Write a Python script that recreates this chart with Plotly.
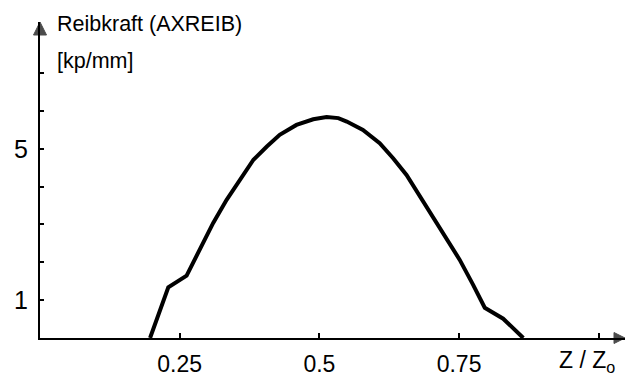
import plotly.graph_objects as go

# Relative position Z/Z0 and friction force (kp/mm)
z_rel = [0.197, 0.2296, 0.2624, 0.286, 0.310, 0.334, 0.358, 0.382, 0.406,
         0.429, 0.459, 0.489, 0.513, 0.534, 0.549, 0.578, 0.608, 0.632,
         0.656, 0.680, 0.704, 0.727, 0.751, 0.775, 0.796, 0.829, 0.865]
reibkraft = [0.0, 1.34, 1.65, 2.34, 3.04, 3.65, 4.18, 4.71, 5.06,
             5.37, 5.63, 5.78, 5.84, 5.81, 5.72, 5.50, 5.15, 4.75,
             4.31, 3.74, 3.21, 2.64, 2.07, 1.41, 0.80, 0.51, 0.0]

x_tick_vals = [0.25, 0.5, 0.75]
x_tick_text = ["0.25", "0.5", "0.75"]
x_minor_vals = [1.0]
y_tick_vals = [1, 5]
y_tick_text = ["1", "5"]
y_minor_vals = [2, 3, 4, 6, 7]

X_MAX = 1.047
Y_MAX = 8.35
FONT = "Liberation Sans, Arial, sans-serif"

fig = go.Figure()
fig.add_trace(go.Scatter(
    x=z_rel, y=reibkraft, mode="lines",
    line=dict(color="black", width=4),
    hoverinfo="skip", showlegend=False, cliponaxis=False,
))

# arrowheads at the ends of both axes
fig.add_trace(go.Scatter(
    x=[X_MAX, 0], y=[0, Y_MAX], mode="markers",
    marker=dict(symbol=["arrow-right", "arrow-up"], size=[11, 13],
                color="black", line=dict(color="black", width=1)),
    hoverinfo="skip", showlegend=False, cliponaxis=False,
))

fig.update_layout(
    width=640, height=377,
    margin=dict(l=40, r=15, t=22, b=38.5, autoexpand=False),
    paper_bgcolor="white", plot_bgcolor="white",
    font=dict(family=FONT, color="black", size=22),
    xaxis=dict(
        range=[0, X_MAX], showgrid=False, zeroline=False, automargin=False,
        showline=True, linecolor="black", linewidth=2,
        ticks="inside", ticklen=5, tickwidth=2, tickcolor="black",
        tickvals=x_tick_vals, ticktext=x_tick_text,
        minor=dict(tickvals=x_minor_vals, ticks="inside", ticklen=5,
                   tickwidth=2, tickcolor="black", showgrid=False),
        tickfont=dict(size=23), ticklabelstandoff=4,
    ),
    yaxis=dict(
        range=[0, Y_MAX], showgrid=False, zeroline=False, automargin=False,
        showline=True, linecolor="black", linewidth=2,
        ticks="inside", ticklen=4, tickwidth=2, tickcolor="black",
        tickvals=y_tick_vals, ticktext=y_tick_text,
        minor=dict(tickvals=y_minor_vals, ticks="inside", ticklen=4,
                   tickwidth=2, tickcolor="black", showgrid=False),
        tickfont=dict(size=25), ticklabelstandoff=5,
    ),
)

# axis titles
fig.add_annotation(x=0.026, y=0.994, xref="paper", yref="paper", xanchor="left",
                   yanchor="middle", showarrow=False,
                   text="Reibkraft (AXREIB)", font=dict(size=21.5))
fig.add_annotation(x=0.026, y=0.877, xref="paper", yref="paper", xanchor="left",
                   yanchor="middle", showarrow=False,
                   text="[kp/mm]", font=dict(size=21.5))
fig.add_annotation(x=0.935, y=-0.074, xref="paper", yref="paper", xanchor="center",
                   yanchor="middle", showarrow=False,
                   text="Z / Z<sub>o</sub>", font=dict(size=23))

fig.write_html("out.html")
